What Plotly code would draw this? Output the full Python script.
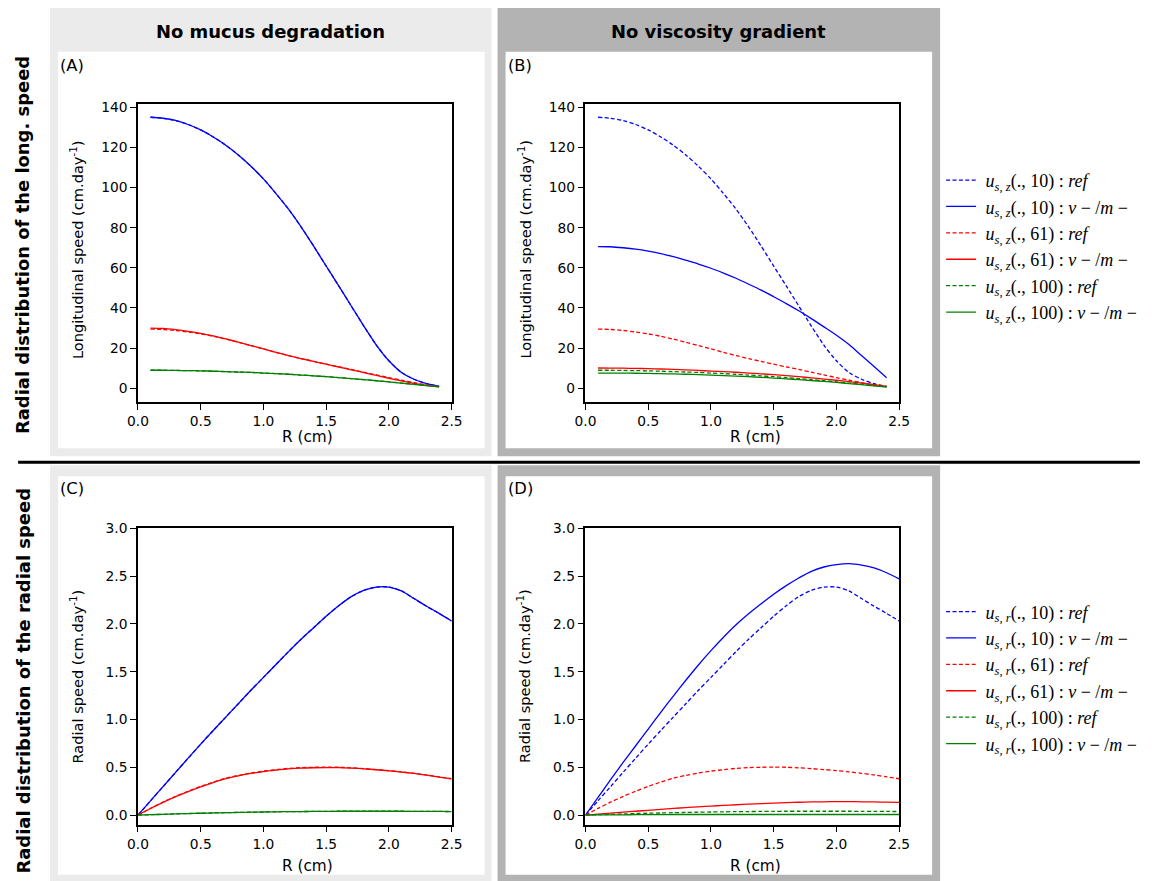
import plotly.graph_objects as go

W, H = 1155, 881

# ---------------------------------------------------------------- data
# radial positions (cm)
r_long = [0.1, 0.2, 0.3, 0.4, 0.5, 0.6, 0.7, 0.8, 0.9, 1.0, 1.1, 1.2,
          1.3, 1.4, 1.5, 1.6, 1.7, 1.8, 1.9, 2.0, 2.1, 2.2, 2.3, 2.4]
r_rad = [0.0, 0.1, 0.2, 0.3, 0.4, 0.5, 0.6, 0.7, 0.8, 0.9, 1.0, 1.1, 1.2,
         1.3, 1.4, 1.5, 1.6, 1.7, 1.8, 1.9, 2.0, 2.1, 2.2, 2.3, 2.4, 2.5]

# longitudinal speed u_s,z (cm/day) at z = 10, 61, 100 -- reference model
uz10_ref = [135.0, 134.5, 133.4, 131.4, 128.7, 125.2, 121.1, 116.2, 110.6, 104.3, 97.0, 89.2,
            80.4, 70.8, 60.9, 51.0, 41.0, 31.0, 21.5, 13.7, 7.9, 4.5, 2.3, 1.0]
uz61_ref = [29.5, 29.3, 28.8, 28.0, 27.1, 25.9, 24.5, 22.9, 21.3, 19.6, 17.9, 16.3,
            14.8, 13.4, 12.0, 10.7, 9.4, 8.0, 6.7, 5.3, 4.0, 2.8, 1.7, 0.8]
uz100_ref = [9.0, 8.98, 8.9, 8.8, 8.7, 8.5, 8.3, 8.1, 7.9, 7.6, 7.3, 7.0,
             6.6, 6.2, 5.8, 5.3, 4.8, 4.3, 3.8, 3.2, 2.6, 2.0, 1.4, 0.8]

# longitudinal speed -- no mucus degradation
uz10_nodeg = [135.0, 134.5, 133.4, 131.4, 128.7, 125.2, 121.1, 116.2, 110.6, 104.3, 97.0, 89.2,
              80.4, 70.8, 60.9, 51.0, 41.0, 31.0, 21.5, 13.7, 7.9, 4.5, 2.3, 1.0]
uz61_nodeg = [30.0, 29.8, 29.2, 28.4, 27.4, 26.1, 24.6, 23.0, 21.3, 19.6, 17.9, 16.3,
              14.8, 13.4, 12.0, 10.6, 9.2, 7.8, 6.4, 5.0, 3.7, 2.5, 1.5, 0.7]
uz100_nodeg = [9.0, 8.98, 8.9, 8.8, 8.7, 8.5, 8.3, 8.1, 7.9, 7.6, 7.3, 7.0,
               6.6, 6.2, 5.8, 5.3, 4.8, 4.3, 3.75, 3.15, 2.55, 1.95, 1.35, 0.75]

# longitudinal speed -- no viscosity gradient
uz10_novisc = [70.6, 70.5, 70.0, 69.3, 68.3, 67.1, 65.6, 63.8, 61.9, 59.8, 57.4, 54.8,
               51.9, 48.9, 45.6, 42.2, 38.6, 34.7, 30.6, 26.4, 21.8, 16.3, 10.8, 5.3]
uz61_novisc = [10.1, 10.05, 10.0, 9.9, 9.8, 9.6, 9.4, 9.2, 8.9, 8.6, 8.3, 8.0,
               7.6, 7.2, 6.8, 6.3, 5.8, 5.2, 4.6, 4.0, 3.3, 2.6, 1.8, 0.9]
uz100_novisc = [7.6, 7.6, 7.55, 7.5, 7.4, 7.3, 7.15, 7.0, 6.8, 6.6, 6.35, 6.1,
                5.8, 5.45, 5.1, 4.7, 4.3, 3.85, 3.4, 2.9, 2.35, 1.8, 1.2, 0.6]

# radial speed u_s,r (cm/day) -- reference model
ur10_ref = [0.0, 0.149, 0.298, 0.447, 0.595, 0.742, 0.885, 1.025, 1.165, 1.305, 1.44, 1.575, 1.71,
            1.84, 1.96, 2.08, 2.19, 2.285, 2.35, 2.385, 2.385, 2.345, 2.265, 2.185, 2.11, 2.03]
ur61_ref = [0.0, 0.07, 0.135, 0.195, 0.25, 0.30, 0.345, 0.385, 0.415, 0.44, 0.46, 0.475, 0.488,
            0.496, 0.50, 0.502, 0.50, 0.494, 0.486, 0.476, 0.465, 0.452, 0.437, 0.42, 0.40, 0.38]
ur100_ref = [0.0, 0.004, 0.008, 0.012, 0.016, 0.019, 0.022, 0.025, 0.028, 0.030, 0.032, 0.034, 0.036,
             0.037, 0.038, 0.039, 0.040, 0.040, 0.040, 0.040, 0.040, 0.040, 0.039, 0.039, 0.038, 0.037]

# radial speed -- no mucus degradation
ur10_nodeg = [0.0, 0.149, 0.298, 0.447, 0.595, 0.742, 0.885, 1.025, 1.165, 1.305, 1.44, 1.575, 1.71,
              1.84, 1.96, 2.08, 2.19, 2.285, 2.35, 2.385, 2.385, 2.345, 2.265, 2.185, 2.11, 2.03]
ur61_nodeg = [0.0, 0.069, 0.133, 0.192, 0.246, 0.295, 0.34, 0.38, 0.41, 0.435, 0.455, 0.47, 0.483,
              0.491, 0.495, 0.497, 0.496, 0.491, 0.484, 0.474, 0.463, 0.45, 0.435, 0.418, 0.398, 0.378]
ur100_nodeg = [0.0, 0.004, 0.008, 0.012, 0.016, 0.019, 0.022, 0.025, 0.028, 0.030, 0.032, 0.034, 0.036,
               0.037, 0.038, 0.039, 0.040, 0.040, 0.040, 0.040, 0.040, 0.040, 0.039, 0.039, 0.038, 0.037]

# radial speed -- no viscosity gradient
ur10_novisc = [0.0, 0.185, 0.37, 0.55, 0.725, 0.9, 1.075, 1.245, 1.41, 1.57, 1.72, 1.86, 1.99,
               2.105, 2.21, 2.31, 2.40, 2.48, 2.55, 2.595, 2.62, 2.63, 2.615, 2.585, 2.535, 2.47]
ur61_novisc = [0.0, 0.01, 0.02, 0.03, 0.04, 0.05, 0.06, 0.07, 0.078, 0.086, 0.094, 0.101, 0.108,
               0.114, 0.12, 0.125, 0.13, 0.134, 0.137, 0.139, 0.14, 0.14, 0.139, 0.137, 0.135, 0.132]
ur100_novisc = [0.0, 0.001, 0.002, 0.003, 0.004, 0.005, 0.005, 0.006, 0.006, 0.006, 0.006, 0.006, 0.006,
                0.006, 0.006, 0.006, 0.006, 0.006, 0.006, 0.006, 0.006, 0.006, 0.006, 0.006, 0.006, 0.006]

# tick labels
r_ticks = [0.0, 0.5, 1.0, 1.5, 2.0, 2.5]
r_ticktext = ["0.0", "0.5", "1.0", "1.5", "2.0", "2.5"]
long_ticks = [0, 20, 40, 60, 80, 100, 120, 140]
long_ticktext = ["0", "20", "40", "60", "80", "100", "120", "140"]
rad_ticks = [0.0, 0.5, 1.0, 1.5, 2.0, 2.5, 3.0]
rad_ticktext = ["0.0", "0.5", "1.0", "1.5", "2.0", "2.5", "3.0"]

z_levels = ["10", "61", "100"]
colors = ["#0000ff", "#ff0000", "#008000"]

# ---------------------------------------------------------------- layout helpers
# positions below are given in page pixels; they are spread slightly so the
# drawing fills the page the way the original figure does
SX, OX = 0.982, 9.9
SY, OY = 0.9898, 8.3
FS = 1.02  # font scale that goes with the spread


def px(x):
    """page pixel column -> paper fraction"""
    return min(max((x - OX) / SX, 0), W) / W


def py(y):
    """page pixel row -> paper fraction"""
    return 1 - min(max((y - OY) / SY, 0), H) / H


SANS = "DejaVu Sans"
MATH = "Liberation Serif"


def legend_label(comp, z, kind):
    base = f" <i>u</i><sub><i>s, {comp}</i></sub>(., {z}) : "
    if kind == "ref":
        return base + "<i>ref</i>"
    return base + "<i>v</i> \u2212 /<i>m</i> \u2212"


fig = go.Figure()


def add_panel(axis_id, r, refs, variants, comp, legend_name, in_legend):
    xa = "x" if axis_id == 1 else f"x{axis_id}"
    ya = "y" if axis_id == 1 else f"y{axis_id}"
    for z, col, ref, var in zip(z_levels, colors, refs, variants):
        fig.add_trace(go.Scatter(
            x=r, y=ref, mode="lines", xaxis=xa, yaxis=ya,
            line=dict(color=col, width=1.3, dash="4px,2.4px", shape="spline", smoothing=0.8),
            name=legend_label(comp, z, "ref"), legend=legend_name,
            showlegend=in_legend))
        fig.add_trace(go.Scatter(
            x=r, y=var, mode="lines", xaxis=xa, yaxis=ya,
            line=dict(color=col, width=1.3, shape="spline", smoothing=0.8),
            name=legend_label(comp, z, "vm"), legend=legend_name,
            showlegend=in_legend))


add_panel(1, r_long, [uz10_ref, uz61_ref, uz100_ref],
          [uz10_nodeg, uz61_nodeg, uz100_nodeg], "z", "legend", False)
add_panel(2, r_long, [uz10_ref, uz61_ref, uz100_ref],
          [uz10_novisc, uz61_novisc, uz100_novisc], "z", "legend", True)
add_panel(3, r_rad, [ur10_ref, ur61_ref, ur100_ref],
          [ur10_nodeg, ur61_nodeg, ur100_nodeg], "r", "legend2", False)
add_panel(4, r_rad, [ur10_ref, ur61_ref, ur100_ref],
          [ur10_novisc, ur61_novisc, ur100_novisc], "r", "legend2", True)

# ---------------------------------------------------------------- axes
left_cols = (137, 451)
right_cols = (585, 899)
top_row = (104, 402)
bottom_row = (528, 824)

tickfont = dict(family=SANS, size=13.5 * FS, color="black")


def xaxis(cols, anchor):
    return dict(domain=[px(cols[0]), px(cols[1])], range=[0, 2.5], anchor=anchor,
                tickvals=r_ticks, ticktext=r_ticktext, tickfont=tickfont,
                showline=True, mirror=True, linecolor="black", linewidth=1.6,
                ticks="outside", ticklen=6, tickwidth=1.4, tickcolor="black",
                showgrid=False, zeroline=False)


def yaxis(rows, anchor, rng, vals, text):
    return dict(domain=[py(rows[1]), py(rows[0])], range=rng, anchor=anchor,
                tickvals=vals, ticktext=text, tickfont=tickfont,
                showline=True, mirror=True, linecolor="black", linewidth=1.6,
                ticks="outside", ticklen=6, tickwidth=1.4, tickcolor="black",
                showgrid=False, zeroline=False)


long_range = [-6.9, 141.7]
rad_range = [-0.1, 3.0]

fig.update_layout(
    xaxis=xaxis(left_cols, "y"),
    yaxis=yaxis(top_row, "x", long_range, long_ticks, long_ticktext),
    xaxis2=xaxis(right_cols, "y2"),
    yaxis2=yaxis(top_row, "x2", long_range, long_ticks, long_ticktext),
    xaxis3=xaxis(left_cols, "y3"),
    yaxis3=yaxis(bottom_row, "x3", rad_range, rad_ticks, rad_ticktext),
    xaxis4=xaxis(right_cols, "y4"),
    yaxis4=yaxis(bottom_row, "x4", rad_range, rad_ticks, rad_ticktext),
)

# ---------------------------------------------------------------- panel frames
shapes = []
frames = [
    # (outer x0, x1, y0, y1, inner x0, x1, y0, y1, colour)
    (49, 491, 8, 456, 57, 484, 52, 448, "#ebebeb"),
    (497, 940, 8, 456, 505, 932, 52, 448, "#b3b3b3"),
    (49, 491, 465, 890, 57, 484, 476, 874, "#ebebeb"),
    (497, 940, 465, 890, 505, 932, 476, 874, "#b3b3b3"),
]
for ox0, ox1, oy0, oy1, ix0, ix1, iy0, iy1, col in frames:
    shapes.append(dict(type="rect", xref="paper", yref="paper", layer="below",
                       x0=px(ox0), x1=px(ox1), y0=py(oy1), y1=py(oy0),
                       fillcolor=col, line=dict(width=0)))
    shapes.append(dict(type="rect", xref="paper", yref="paper", layer="below",
                       x0=px(ix0), x1=px(ix1), y0=py(iy1), y1=py(iy0),
                       fillcolor="white", line=dict(width=0)))
shapes.append(dict(type="line", xref="paper", yref="paper",
                   x0=px(17), x1=px(1140), y0=py(462), y1=py(462),
                   line=dict(color="black", width=3)))

# ---------------------------------------------------------------- texts
ann = []


def text(x, y, s, size, bold=False, angle=0, xanchor="center", family=SANS):
    ann.append(dict(xref="paper", yref="paper", x=px(x), y=py(y), text=s,
                    showarrow=False, textangle=angle, xanchor=xanchor, yanchor="middle",
                    font=dict(family=family, size=size * FS, color="black",
                              weight="bold" if bold else "normal")))


text(270, 32, "No mucus degradation", 17.6, bold=True)
text(718, 32, "No viscosity gradient", 17.6, bold=True)
text(22, 245, "Radial distribution of the long. speed", 17.6, bold=True, angle=-90)
text(22, 680, "Radial distribution of the radial speed", 17.6, bold=True, angle=-90)

text(57, 66, "(A)", 16, xanchor="left")
text(505, 66, "(B)", 16, xanchor="left")
text(57, 488, "(C)", 16, xanchor="left")
text(505, 488, "(D)", 16, xanchor="left")

for cx in (307, 755):
    text(cx, 437, "R (cm)", 15)
    text(cx, 865, "R (cm)", 15)
for cx in (76, 524):
    text(cx, 250, "Longitudinal speed (cm.day<sup>-1</sup>)", 14.3, angle=-90)
    text(cx, 676, "Radial speed (cm.day<sup>-1</sup>)", 14.3, angle=-90)

legend_style = dict(xanchor="left", yanchor="top", bgcolor="rgba(0,0,0,0)",
                    borderwidth=0, traceorder="normal",
                    font=dict(family=MATH, size=18, color="black"))

fig.update_layout(
    width=W, height=H,
    margin=dict(l=0, r=0, t=0, b=0),
    paper_bgcolor="white", plot_bgcolor="white",
    shapes=shapes, annotations=ann,
    legend=dict(x=px(941), y=py(162), **legend_style),
    legend2=dict(x=px(941), y=py(593), **legend_style),
)

fig.write_html("out.html")
